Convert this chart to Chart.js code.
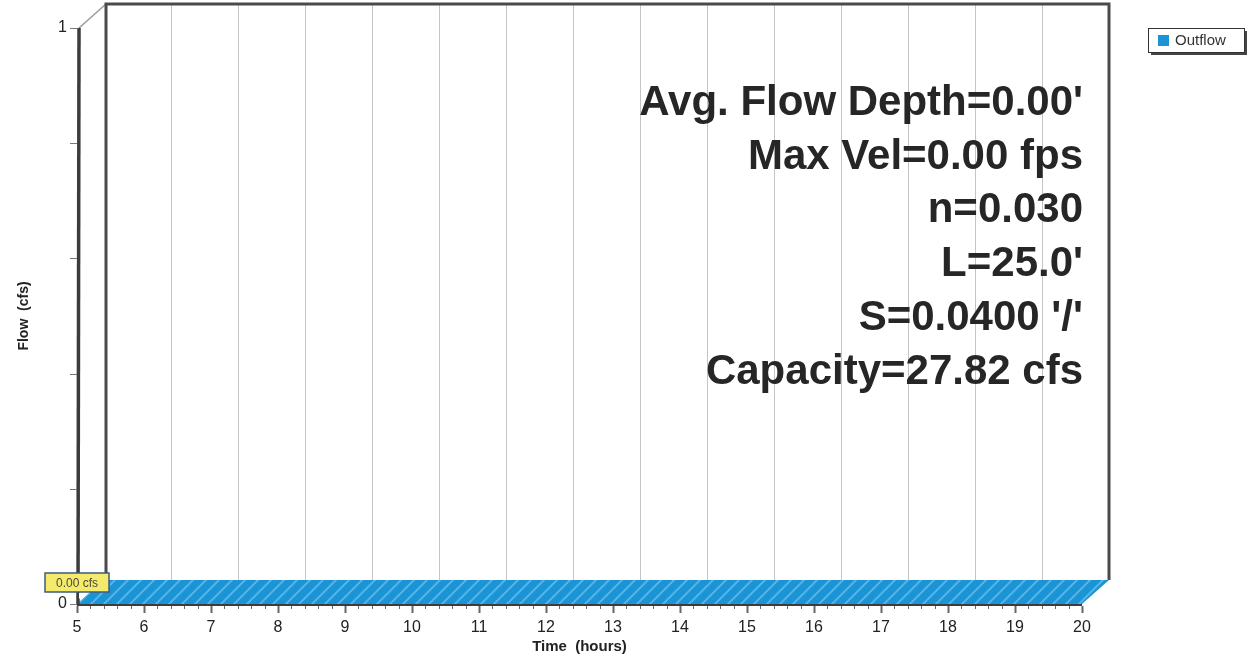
<!DOCTYPE html>
<html>
<head>
<meta charset="utf-8">
<script src="https://cdn.jsdelivr.net/npm/chart.js@4/dist/chart.umd.min.js"></script>
<style>
  html, body { margin: 0; padding: 0; background: #fff; }
  #wrap { width: 1254px; height: 664px; }
</style>
</head>
<body>
<div id="wrap"><canvas id="chart"></canvas></div>
<script>
// Data
const hours = [5, 6, 7, 8, 9, 10, 11, 12, 13, 14, 15, 16, 17, 18, 19, 20];
const outflow = [0, 0, 0, 0, 0, 0, 0, 0, 0, 0, 0, 0, 0, 0, 0, 0];
const yLabelled = [0, 1];
const notes = [
    "Avg. Flow Depth=0.00'",
    "Max Vel=0.00 fps",
    "n=0.030",
    "L=25.0'",
    "S=0.0400 '/'",
    "Capacity=27.82 cfs"
];

const BLUE = '#1a94d4';
const DX = 27, DY = -24;   // depth offset of the back wall

// back wall, grid and frame
const backWall = {
    id: 'backWall',
    beforeDatasetsDraw(chart) {
        const { ctx, chartArea: a, scales: { x, y } } = chart;
        ctx.save();
        ctx.strokeStyle = '#c4c4c4';
        ctx.lineWidth = 1;
        hours.slice(1, -1).forEach(h => {
            const px = Math.round(x.getPixelForValue(h) + DX) + 0.5;
            ctx.beginPath();
            ctx.moveTo(px, a.top + DY);
            ctx.lineTo(px, a.bottom + DY);
            ctx.stroke();
        });
        // diagonal from front top to back top
        ctx.strokeStyle = '#9a9a9a';
        ctx.lineWidth = 1.5;
        ctx.beginPath();
        ctx.moveTo(a.left + 2, a.top);
        ctx.lineTo(a.left + DX + 2, a.top + DY);
        ctx.stroke();
        // back frame
        ctx.strokeStyle = '#4a4a4a';
        ctx.lineWidth = 3;
        ctx.beginPath();
        ctx.moveTo(a.left + DX + 2, a.bottom + DY);
        ctx.lineTo(a.left + DX + 2, a.top + DY);
        ctx.lineTo(a.right + DX, a.top + DY);
        ctx.lineTo(a.right + DX, a.bottom + DY);
        ctx.stroke();
        ctx.restore();
    },
    afterDatasetsDraw(chart) {
        const { ctx, chartArea: a, scales: { x, y } } = chart;
        const pts = chart.getDatasetMeta(0).data;
        const base = y.getPixelForValue(0);
        ctx.save();

        // 3D ribbon of the series
        ctx.beginPath();
        ctx.moveTo(pts[0].x, base);
        pts.forEach(p => ctx.lineTo(p.x, p.y));
        ctx.lineTo(pts[pts.length - 1].x, base);
        ctx.lineTo(pts[pts.length - 1].x + DX, base + DY);
        for (let i = pts.length - 1; i >= 0; i--) ctx.lineTo(pts[i].x + DX, pts[i].y + DY);
        ctx.closePath();
        ctx.fillStyle = BLUE;
        ctx.fill();
        ctx.save();
        ctx.clip();
        ctx.strokeStyle = '#56b4e6';
        ctx.lineWidth = 2;
        for (let sx = a.left - 40; sx < a.right + 60; sx += 13) {
            ctx.beginPath();
            ctx.moveTo(sx, base + 2);
            ctx.lineTo(sx + 28, base + DY - 2);
            ctx.stroke();
        }
        ctx.restore();

        // front axis lines
        ctx.strokeStyle = '#3c3c3c';
        ctx.lineWidth = 3.5;
        ctx.beginPath();
        ctx.moveTo(a.left + 2, a.top);
        ctx.lineTo(a.left + 1, base + 1);
        ctx.stroke();
        ctx.lineWidth = 2;
        ctx.beginPath();
        ctx.moveTo(a.left, base + 1);
        ctx.lineTo(a.right, base + 1);
        ctx.stroke();

        // x ticks (major every hour, minor every 0.2 h)
        ctx.strokeStyle = '#666';
        for (let k = hours[0] * 5; k <= hours[hours.length - 1] * 5; k++) {
            const px = Math.round(x.getPixelForValue(k / 5)) + 0.5;
            const len = k % 5 === 0 ? 7 : 3;
            ctx.lineWidth = k % 5 === 0 ? 2 : 1;
            ctx.beginPath();
            ctx.moveTo(px, base + 2);
            ctx.lineTo(px, base + 2 + len);
            ctx.stroke();
        }
        // y ticks
        ctx.lineWidth = 1;
        ctx.strokeStyle = '#777';
        y.ticks.forEach(t => {
            const py = Math.round(y.getPixelForValue(t.value)) + 0.5;
            ctx.beginPath();
            ctx.moveTo(a.left - 7, py);
            ctx.lineTo(a.left, py);
            ctx.stroke();
        });

        // peak label
        const peak = Math.max(...outflow);
        const pi = outflow.indexOf(peak);
        const pp = pts[pi];
        const bx = pp.x - 32, by = pp.y - 31, bw = 64, bh = 19;
        ctx.fillStyle = '#f4ea6c';
        ctx.fillRect(bx, by, bw, bh);
        ctx.strokeStyle = '#3f5b78';
        ctx.lineWidth = 1.5;
        ctx.strokeRect(bx, by, bw, bh);
        ctx.fillStyle = '#fff';
        ctx.beginPath();
        ctx.moveTo(pp.x + 2, pp.y - 11);
        ctx.lineTo(pp.x + 9, pp.y - 11);
        ctx.lineTo(pp.x + 2, pp.y - 5);
        ctx.closePath();
        ctx.fill();
        ctx.fillStyle = '#4a4a3a';
        ctx.font = '12px "Liberation Sans", Arial, sans-serif';
        ctx.textAlign = 'center';
        ctx.textBaseline = 'middle';
        ctx.fillText(peak.toFixed(2) + ' cfs', bx + bw / 2, by + bh / 2 + 1);

        // notes
        ctx.fillStyle = '#262626';
        ctx.font = 'bold 42px "Liberation Sans", Arial, sans-serif';
        ctx.textAlign = 'right';
        ctx.textBaseline = 'alphabetic';
        notes.forEach((n, i) => ctx.fillText(n, 1083, 115 + i * 53.7));

        // legend
        const lx = 1148, ly = 28, lw = 96, lh = 24;
        ctx.fillStyle = '#444';
        ctx.fillRect(lx + 3, ly + 3, lw, lh);
        ctx.fillStyle = '#fff';
        ctx.fillRect(lx, ly, lw, lh);
        ctx.strokeStyle = '#333';
        ctx.lineWidth = 1;
        ctx.strokeRect(lx + 0.5, ly + 0.5, lw, lh);
        ctx.fillStyle = BLUE;
        ctx.fillRect(lx + 10, ly + 7, 11, 11);
        ctx.fillStyle = '#333';
        ctx.font = '15px "Liberation Sans", Arial, sans-serif';
        ctx.textAlign = 'left';
        ctx.textBaseline = 'middle';
        ctx.fillText(chart.data.datasets[0].label, lx + 27, ly + lh / 2 + 1);
        ctx.restore();
    }
};

const ctx = document.getElementById('chart').getContext('2d');
new Chart(ctx, {
    type: 'line',
    data: {
        datasets: [{
            label: 'Outflow',
            data: hours.map((h, i) => ({ x: h, y: outflow[i] })),
            borderColor: BLUE,
            borderWidth: 0,
            pointRadius: 0,
            fill: false
        }]
    },
    options: {
        responsive: true,
        maintainAspectRatio: false,
        animation: false,
        devicePixelRatio: 1,
        layout: { padding: { left: 0, right: 172, top: 28, bottom: 0 } },
        plugins: { legend: { display: false }, tooltip: { enabled: false } },
        scales: {
            x: {
                type: 'linear',
                min: 5,
                max: 20,
                afterFit: s => { s.height = 60; },
                grid: { display: false, drawTicks: false },
                border: { display: false },
                ticks: {
                    stepSize: 1,
                    padding: 14,
                    color: '#222',
                    font: { size: 16, family: '"Liberation Sans", Arial, sans-serif' }
                },
                title: {
                    display: true,
                    text: 'Time  (hours)',
                    color: '#222',
                    padding: { top: 8, bottom: 8 },
                    font: { size: 15, weight: 'bold', family: '"Liberation Sans", Arial, sans-serif' }
                }
            },
            y: {
                min: 0,
                max: 1,
                afterFit: s => { s.width = 77; },
                grid: { display: false, drawTicks: false },
                border: { display: false },
                ticks: {
                    stepSize: 0.2,
                    padding: 10,
                    color: '#222',
                    font: { size: 16, family: '"Liberation Sans", Arial, sans-serif' },
                    callback: v => yLabelled.includes(v) ? v : ''
                },
                title: {
                    display: true,
                    text: 'Flow  (cfs)',
                    color: '#222',
                    padding: { top: 16, bottom: 16 },
                    font: { size: 14, weight: 'bold', family: '"Liberation Sans", Arial, sans-serif' }
                }
            }
        }
    },
    plugins: [backWall]
});
</script>
</body>
</html>
